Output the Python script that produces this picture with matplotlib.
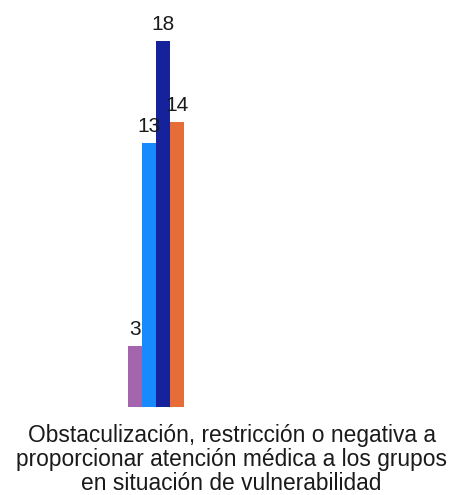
import matplotlib
matplotlib.use("Agg")
import matplotlib.pyplot as plt
import numpy as np

plt.rcParams['font.family'] = ['Liberation Sans', 'DejaVu Sans']

category = "Obstaculización, restricción o negativa a\nproporcionar atención médica a los grupos\nen situación de vulnerabilidad"
series_values = [3, 13, 18, 14]
series_colors = ["#a565ad", "#178bfd", "#15229b", "#e66d38"]

fig = plt.figure(figsize=(4.63, 4.95), dpi=100)
H = 495.0
W = 463.0
ax = fig.add_axes([0, 88 / H, 1, 407 / H])

px_per_unit_y = 20.33
ax.set_ylim(0, 407 / px_per_unit_y)

bar_w = 0.2
px_per_unit_x = 14.1 / bar_w
center_px = 156.3
ax.set_xlim(-center_px / px_per_unit_x, (W - center_px) / px_per_unit_x)

n = len(series_values)
offsets = (np.arange(n) - (n - 1) / 2) * bar_w
for off, v, c in zip(offsets, series_values, series_colors):
    ax.bar(off, v, width=bar_w, color=c, linewidth=0)
    ax.annotate(str(v), (off, v), xytext=(0, 8), textcoords='offset points',
                ha='center', va='baseline', fontsize=15, color='#1a1a1a')

ax.axis('off')

fig.text(0.5, 1 - 424 / H, category, ha='center', va='top', fontsize=16.4,
         color='#1a1a1a', linespacing=1.05)

fig.savefig("out.png", dpi=100)
